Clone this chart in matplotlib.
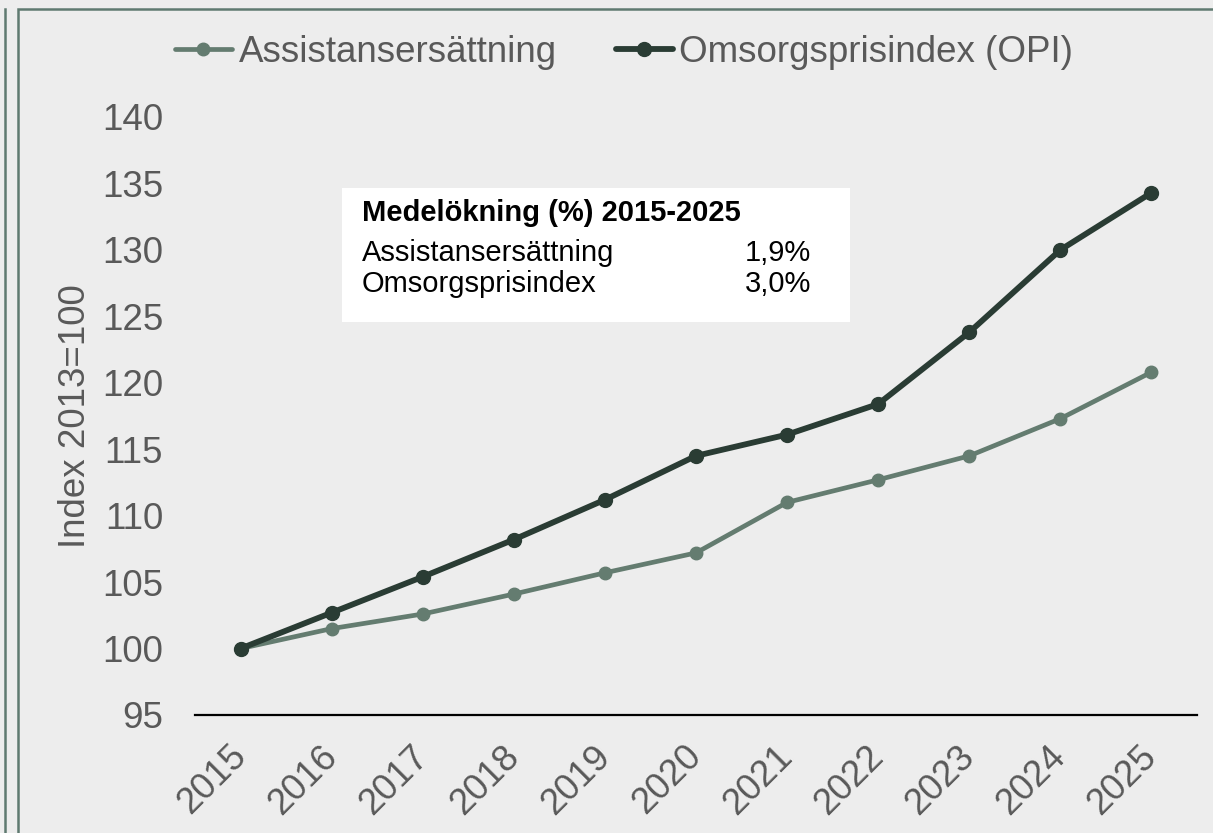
import matplotlib
matplotlib.use("Agg")
import matplotlib.pyplot as plt
import matplotlib.transforms as mtransforms
from matplotlib.patches import Rectangle
from matplotlib.lines import Line2D

years = ["2015", "2016", "2017", "2018", "2019", "2020", "2021", "2022", "2023", "2024", "2025"]
assistans = [100.0, 101.5, 102.6, 104.1, 105.7, 107.2, 111.0, 112.7, 114.5, 117.3, 120.8]
opi = [100.0, 102.7, 105.4, 108.2, 111.2, 114.5, 116.1, 118.4, 123.8, 130.0, 134.3]
series_names = ["Assistansersättning", "Omsorgsprisindex (OPI)"]
yticks = [95, 100, 105, 110, 115, 120, 125, 130, 135, 140]
box_title = "Medelökning (%) 2015-2025"
box_rows = [("Assistansersättning", "1,9%"), ("Omsorgsprisindex", "3,0%")]

W, H = 1213, 833
DPI = 100
plt.rcParams['font.family'] = ['Liberation Sans', 'DejaVu Sans']

c_assist = "#647c70"
c_opi = "#2a3c34"
c_bg = "#ededed"
c_tick = "#595959"
c_frame = "#5f7a70"

fig = plt.figure(figsize=(W / DPI, H / DPI), dpi=DPI, facecolor=c_bg)

def fx(px):
    return px / W

def fy(py):
    return 1 - py / H

# frames
fig.patches.append(Rectangle((fx(18), fy(H + 20)), fx(W + 40), (H + 20 - 9) / H,
                             transform=fig.transFigure, fill=False,
                             edgecolor=c_frame, linewidth=1.8))
fig.lines.append(Line2D([fx(5), fx(5)], [fy(9), fy(H + 10)], transform=fig.transFigure,
                        color=c_frame, linewidth=1.8))

ax_l, ax_r, ax_t, ax_b = 195, 1197, 117, 715
ax = fig.add_axes([fx(ax_l), fy(ax_b), fx(ax_r - ax_l), (ax_b - ax_t) / H])
ax.set_facecolor(c_bg)

x = list(range(len(years)))
ax.plot(x, assistans, color=c_assist, linewidth=3.4, marker='o', markersize=9,
        label=series_names[0], solid_capstyle='round')
ax.plot(x, opi, color=c_opi, linewidth=4.2, marker='o', markersize=10,
        label=series_names[1], solid_capstyle='round')

ax.set_xlim(-0.5, len(years) - 0.5)
ax.set_ylim(95, 140)
ax.set_yticks(yticks)
ax.set_yticklabels([str(v) for v in yticks], fontsize=26.5, color=c_tick)
ax.set_xticks(x)
ax.set_xticklabels(years, fontsize=26.5, color=c_tick, rotation=45,
                   ha='right', va='center', rotation_mode='anchor')
ax.tick_params(axis='both', length=0)
ax.tick_params(axis='y', pad=23)
ax.tick_params(axis='x', pad=26)
offset = mtransforms.ScaledTranslation(0 / DPI, 0, fig.dpi_scale_trans)
for lab in ax.get_xticklabels():
    lab.set_transform(lab.get_transform() + offset)

for s in ['top', 'right', 'left']:
    ax.spines[s].set_visible(False)
ax.spines['bottom'].set_color('black')
ax.spines['bottom'].set_linewidth(1.6)

ax.set_ylabel("Index 2013=100", fontsize=26.5, color=c_tick)
ax.yaxis.set_label_coords((93 - ax_l) / (ax_r - ax_l), 0.5)

handles, labels = ax.get_legend_handles_labels()
leg = fig.legend(handles, labels, loc='center', bbox_to_anchor=(fx(624), fy(52)),
                 ncol=2, frameon=False, fontsize=26.5, handlelength=1.55,
                 handletextpad=0.18, columnspacing=1.6, borderaxespad=0, borderpad=0)
for t in leg.get_texts():
    t.set_color(c_tick)

# text box
fig.patches.append(Rectangle((fx(342), fy(322)), fx(850 - 342), (322 - 188) / H,
                             transform=fig.transFigure, facecolor='white',
                             edgecolor='none', zorder=3))
fig.text(fx(362), fy(221), box_title, fontsize=21, fontweight='bold',
         color='black', va='baseline', ha='left', zorder=4)
row_y = [261, 292]
for (name, val), yy in zip(box_rows, row_y):
    fig.text(fx(362), fy(yy), name, fontsize=21, color='black',
             va='baseline', ha='left', zorder=4)
    fig.text(fx(811), fy(yy), val, fontsize=21, color='black',
             va='baseline', ha='right', zorder=4)

fig.savefig("out.png", dpi=DPI, facecolor=c_bg)
